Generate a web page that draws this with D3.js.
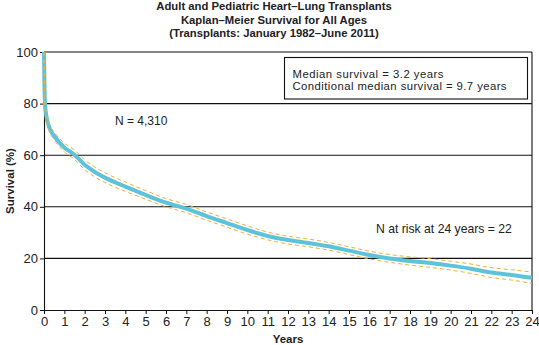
<!DOCTYPE html>
<html><head><meta charset="utf-8">
<script src="https://cdn.jsdelivr.net/npm/d3@7"></script>
<style>body{margin:0;background:#fff}svg{display:block}text{font-family:"Liberation Sans",Arial,sans-serif}</style>
</head><body>
<svg id="c" width="539" height="345"></svg>
<script>
const years    = [0, 0.02, 0.05, 0.1, 0.25, 0.5, 1, 1.5, 2, 2.5, 3, 4, 5, 6, 7, 8, 9, 10, 11, 12, 13, 14, 15, 16, 17, 18, 19, 20, 21, 22, 23, 24];
const survival = [100, 88, 80, 76, 71, 67.5, 63, 60.2, 56.3, 53.5, 51.3, 47.8, 44.6, 41.6, 39.3, 36.4, 33.7, 31, 28.7, 27.1, 26, 24.7, 23, 21.3, 20, 19, 18.2, 17.2, 16, 14.5, 13.6, 12.5];
const ciLower  = [100, 87, 79, 74.8, 69.6, 66, 61.3, 58.4, 54.4, 51.6, 49.4, 46, 42.9, 40, 37.7, 34.8, 32.1, 29.4, 27.2, 25.6, 24.5, 23.2, 21.5, 19.8, 18.5, 17.4, 16.5, 15.5, 14.2, 12.6, 11.6, 10.3];
const ciUpper  = [100, 89, 81, 77.2, 72.4, 69, 64.7, 62, 58.2, 55.4, 53.2, 49.6, 46.3, 43.2, 40.9, 38, 35.3, 32.6, 30.2, 28.6, 27.5, 26.2, 24.5, 22.8, 21.5, 20.6, 19.9, 18.9, 17.8, 16.4, 15.6, 14.7];
const xTicks = d3.range(0, 25);
const yTicks = [0, 20, 40, 60, 80, 100];
const titleLines = ["Adult and Pediatric Heart\u2013Lung Transplants", "Kaplan\u2013Meier Survival for All Ages", "(Transplants: January 1982\u2013June 2011)"];
const boxLines = ["Median survival = 3.2 years", "Conditional median survival = 9.7 years"];
const nLabel = "N = 4,310";
const riskLabel = "N at risk at 24 years = 22";

const svg = d3.select("#c");
const L = 44, R = 532, T = 52, B = 310;
const x = d3.scaleLinear().domain([0, 24]).range([L, R]);
const y = d3.scaleLinear().domain([0, 100]).range([B, T]);

// title
svg.append("g").selectAll("text").data(titleLines).join("text")
  .attr("x", 274).attr("y", (d, i) => 10 + i * 13.5)
  .attr("text-anchor", "middle").attr("font-weight", "bold").attr("font-size", 11.3)
  .attr("fill", "#222").text(d => d);

// grid lines
svg.append("g").selectAll("line").data(yTicks.filter(v => v > 0)).join("line")
  .attr("x1", L).attr("x2", R).attr("y1", d => y(d)).attr("y2", d => y(d))
  .attr("stroke", "#111").attr("stroke-width", 1.1);
// right border
svg.append("line").attr("x1", R).attr("x2", R).attr("y1", T).attr("y2", B)
  .attr("stroke", "#111").attr("stroke-width", 1.1);

// axes
const xAxis = svg.append("g").attr("transform", `translate(0,${B})`)
  .call(d3.axisBottom(x).tickValues(xTicks).tickSize(4).tickPadding(3).tickFormat(d3.format("d")));
const yAxis = svg.append("g").attr("transform", `translate(${L},0)`)
  .call(d3.axisLeft(y).tickValues(yTicks).tickSize(4).tickPadding(2));
[xAxis, yAxis].forEach(g => {
  g.selectAll("path").attr("stroke", "#111").attr("stroke-width", 1.1);
  g.selectAll("line").attr("stroke", "#111");
  g.selectAll("text").attr("font-size", 13).attr("fill", "#222")
    .attr("font-family", "'Liberation Sans',Arial,sans-serif");
});

// curves
const line = (arr) => d3.line().x((d, i) => x(years[i])).y(d => y(d)).curve(d3.curveMonotoneX)(arr);
svg.append("path").attr("d", line(survival)).attr("fill", "none")
  .attr("stroke", "#5cc3d8").attr("stroke-width", 4);
[ciLower, ciUpper].forEach(arr => {
  svg.append("path").attr("d", line(arr)).attr("fill", "none")
    .attr("stroke", "#f2ad3a").attr("stroke-width", 1).attr("stroke-dasharray", "4,3");
});

// axis labels
svg.append("text").attr("x", (L + R) / 2).attr("y", 343).attr("text-anchor", "middle")
  .attr("font-weight", "bold").attr("font-size", 11.5).attr("fill", "#222").text("Years");
svg.append("text").attr("transform", "translate(14,181) rotate(-90)").attr("text-anchor", "middle")
  .attr("font-weight", "bold").attr("font-size", 11.5).attr("fill", "#222").text("Survival (%)");

// legend box
svg.append("rect").attr("x", 284.5).attr("y", 57.5).attr("width", 243).attr("height", 41.5)
  .attr("fill", "#fff").attr("stroke", "#111").attr("stroke-width", 1.1);
const boxWidths = [151, 214];
svg.append("g").selectAll("text").data(boxLines).join("text")
  .attr("x", 292.5).attr("y", (d, i) => 77.5 + i * 12)
  .attr("font-size", 11.3).attr("fill", "#222")
  .attr("textLength", (d, i) => boxWidths[i]).attr("lengthAdjust", "spacing")
  .text(d => d);

svg.append("text").attr("x", 115).attr("y", 125).attr("font-size", 12).attr("fill", "#222").text(nLabel);
svg.append("text").attr("x", 376).attr("y", 233).attr("font-size", 12.2).attr("fill", "#222").text(riskLabel);
</script>
</body></html>
